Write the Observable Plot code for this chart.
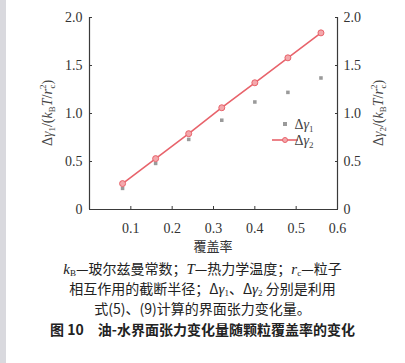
<!DOCTYPE html>
<html><head><meta charset="utf-8">
<script src="https://cdn.jsdelivr.net/npm/d3@7"></script>
<script src="https://cdn.jsdelivr.net/npm/@observablehq/plot@0.6"></script>
<style>
html,body{margin:0;padding:0;background:#fff;}
#wrap{position:relative;width:405px;height:363px;overflow:hidden;background:#fff;}
#strip{position:absolute;left:0;top:0;width:6px;height:363px;background:#d9d9de;}
#chart{position:absolute;left:0;top:0;}
#chart svg, #chart svg text{font-family:"Liberation Serif",serif !important;}
#cap{position:absolute;left:0;top:258px;width:405px;text-align:center;font-family:"Noto Sans CJK SC","Noto Sans",sans-serif;font-size:14px;line-height:20px;color:#222;}
#cap .l{height:20px;white-space:nowrap;}
#cap i{font-family:"Liberation Serif",serif;font-size:15px;}
#cap sub{font-size:9px;vertical-align:-2px;line-height:0;font-family:"Liberation Serif",serif;}
#cap .t{font-weight:600;margin-top:1px;}
#chart svg text.cjk{font-family:"Noto Sans CJK SC",sans-serif !important;}
</style></head>
<body><div id="wrap"><div id="strip"></div><div id="chart"></div>
<div id="cap">
<div class="l"><i>k</i><sub>B</sub>—玻尔兹曼常数；<i>T</i>—热力学温度；<i>r</i><sub>c</sub>—粒子</div>
<div class="l">相互作用的截断半径；Δ<i>γ</i><sub>1</sub>、Δ<i>γ</i><sub>2</sub> 分别是利用</div>
<div class="l">式(5)、(9)计算的界面张力变化量。</div>
<div class="l t">图 10　油-水界面张力变化量随颗粒覆盖率的变化</div>
</div></div>
<script>
const coverage = [0.08, 0.16, 0.24, 0.32, 0.40, 0.48, 0.56];
const dGamma1 = [0.22, 0.48, 0.73, 0.93, 1.12, 1.22, 1.37];
const dGamma2 = [0.27, 0.53, 0.79, 1.06, 1.32, 1.58, 1.84];
const xTicks = [0.1, 0.2, 0.3, 0.4, 0.5, 0.6];
const yTicks = [0, 0.5, 1.0, 1.5, 2.0];
const xLabel = "覆盖率";

const d1 = coverage.map((x, i) => ({x, y: dGamma1[i]}));
const d2 = coverage.map((x, i) => ({x, y: dGamma2[i]}));
const red = "#e8636b";
const axisColor = "#3a3a3a";
const fmt = d => d === 0 ? "0" : d.toFixed(1);
const serif = "Liberation Serif";

const chart = Plot.plot({
  width: 405, height: 258,
  marginLeft: 89, marginRight: 68, marginTop: 17, marginBottom: 49,
  style: {fontFamily: serif, fontSize: "13px", color: "#333", background: "transparent"},
  x: {domain: [0, 0.6]},
  y: {domain: [0, 2]},
  marks: [
    Plot.ruleY([0], {stroke: axisColor, strokeWidth: 1.2}),
    Plot.ruleX([0], {stroke: axisColor, strokeWidth: 1.2}),
    Plot.ruleX([0.6], {stroke: axisColor, strokeWidth: 1.2}),
    Plot.axisX({ticks: xTicks, tickFormat: fmt, tickSize: -3, tickPadding: 17, label: null, stroke: axisColor, fontFamily: serif, fontSize: 14, fill: "#333"}),
    Plot.axisY({ticks: yTicks, tickFormat: fmt, tickSize: -3, tickPadding: 10, label: null, stroke: axisColor, anchor: "left", fontFamily: serif, fontSize: 14, fill: "#333"}),
    Plot.axisY({ticks: yTicks, tickFormat: fmt, tickSize: -3, tickPadding: 9, label: null, stroke: axisColor, anchor: "right", fontFamily: serif, fontSize: 14, fill: "#333"}),
    Plot.dot(d1, {x: "x", y: "y", symbol: "square", r: 2, fill: "#9a9a9a", stroke: "none"}),
    Plot.line(d2, {x: "x", y: "y", stroke: red, strokeWidth: 1.6}),
    Plot.dot(d2, {x: "x", y: "y", r: 3, fill: "#f4a8ac", stroke: red, strokeWidth: 1})
  ]
});
document.getElementById("chart").appendChild(chart);

const svg = d3.select(chart);
// x label
svg.append("text").attr("class", "cjk").attr("x", 213).attr("y", 251).attr("text-anchor", "middle")
  .attr("font-size", 13).attr("fill", "#333").text(xLabel);

function yLabel(x, idx) {
  const t = svg.append("text").attr("transform", `translate(${x},113) rotate(-90)`)
    .attr("text-anchor", "middle").attr("font-size", 14).attr("fill", "#444");
  t.append("tspan").text("Δ");
  t.append("tspan").attr("font-style", "italic").text("γ");
  t.append("tspan").attr("font-size", 9).attr("dy", 3).text(idx);
  t.append("tspan").attr("dy", -3).text("/(");
  t.append("tspan").attr("font-style", "italic").text("k");
  t.append("tspan").attr("font-size", 9).attr("dy", 3).text("B");
  t.append("tspan").attr("dy", -3).attr("font-style", "italic").text("T");
  t.append("tspan").text("/");
  t.append("tspan").attr("font-style", "italic").text("r");
  t.append("tspan").attr("font-size", 9).attr("dy", -6).text("2");
  t.append("tspan").attr("font-size", 9).attr("dx", -4).attr("dy", 9).text("c");
  t.append("tspan").attr("dy", -3).text(")");
}
yLabel(52, "1");
yLabel(383, "2");

// legend
const lg = svg.append("g").attr("font-size", 14).attr("fill", "#444");
lg.append("rect").attr("x", 283).attr("y", 122).attr("width", 4).attr("height", 4).attr("fill", "#9a9a9a");
lg.append("line").attr("x1", 272).attr("x2", 298).attr("y1", 140).attr("y2", 140).attr("stroke", red).attr("stroke-width", 1.6);
lg.append("circle").attr("cx", 285).attr("cy", 140).attr("r", 2.5).attr("fill", "#f4a8ac").attr("stroke", red);
function legText(y, idx) {
  const t = lg.append("text").attr("x", 304).attr("y", y);
  t.append("tspan").text("Δ");
  t.append("tspan").attr("font-style", "italic").text("γ");
  t.append("tspan").attr("font-size", 9).attr("dy", 3).text(idx);
}
legText(129, "1");
legText(145, "2");
</script></body></html>
